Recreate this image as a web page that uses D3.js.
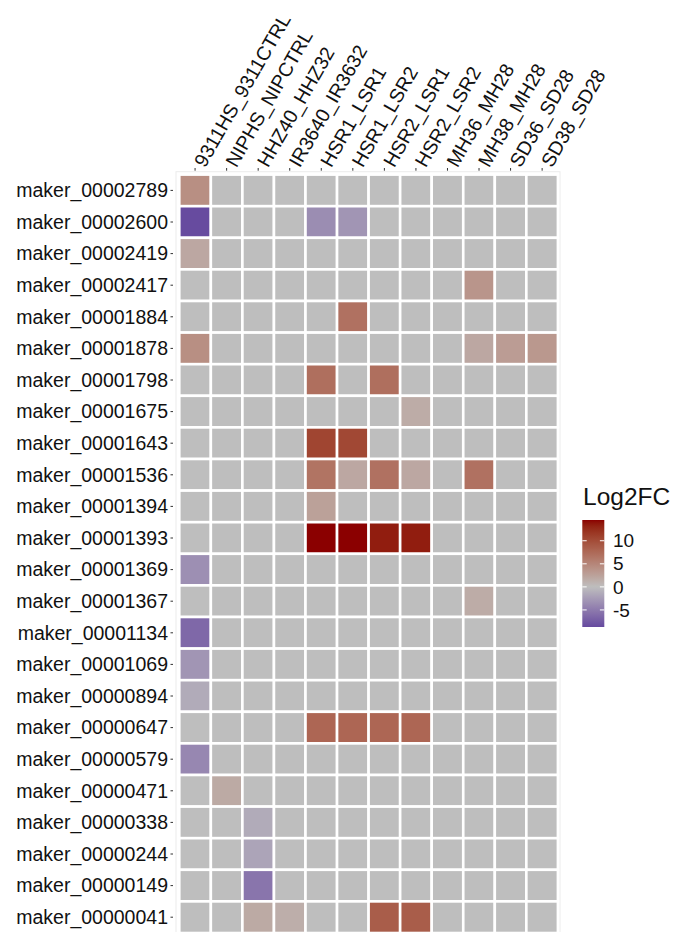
<!DOCTYPE html>
<html>
<head>
<meta charset="utf-8">
<script src="https://cdn.jsdelivr.net/npm/d3@7"></script>
<style>
  html, body { margin: 0; padding: 0; background: #fff; }
  svg { display: block; font-family: "Liberation Sans", Arial, sans-serif; }
</style>
</head>
<body>
<svg id="chart" width="678" height="932"></svg>
<script>
const columns = ["9311HS_9311CTRL","NIPHS_NIPCTRL","HHZ40_HHZ32","IR3640_IR3632","HSR1_LSR1","HSR1_LSR2","HSR2_LSR1","HSR2_LSR2","MH36_MH28","MH38_MH28","SD36_SD28","SD38_SD28"];
const genes = ["maker_00002789","maker_00002600","maker_00002419","maker_00002417","maker_00001884","maker_00001878","maker_00001798","maker_00001675","maker_00001643","maker_00001536","maker_00001394","maker_00001393","maker_00001369","maker_00001367","maker_00001134","maker_00001069","maker_00000894","maker_00000647","maker_00000579","maker_00000471","maker_00000338","maker_00000244","maker_00000149","maker_00000041"];
const N = null;
// Log2FC values per gene (row), one per column; null = not significant (grey)
const log2fc = [
  [ 4.2, N, N, N, N, N, N, N, N, N, N, N],
  [-8.6, N, N, N,-3.6,-3.0, N, N, N, N, N, N],
  [ 2.0, N, N, N, N, N, N, N, N, N, N, N],
  [ N, N, N, N, N, N, N, N, N, 3.6, N, N],
  [ N, N, N, N, N, 6.8, N, N, N, N, N, N],
  [ 4.2, N, N, N, N, N, N, N, N, 2.0, 3.0, 3.4],
  [ N, N, N, N, 7.0, N, 7.0, N, N, N, N, N],
  [ N, N, N, N, N, N, N, 1.6, N, N, N, N],
  [ N, N, N, N,10.6,10.4, N, N, N, N, N, N],
  [ N, N, N, N, 6.6, 2.0, 6.8, 2.0, N, 6.8, N, N],
  [ N, N, N, N, 2.6, N, N, N, N, N, N, N],
  [ N, N, N, N,14.5,14.5,13.4,13.4, N, N, N, N],
  [-3.4, N, N, N, N, N, N, N, N, N, N, N],
  [ N, N, N, N, N, N, N, N, N, 1.6, N, N],
  [-6.4, N, N, N, N, N, N, N, N, N, N, N],
  [-3.0, N, N, N, N, N, N, N, N, N, N, N],
  [-1.4, N, N, N, N, N, N, N, N, N, N, N],
  [ N, N, N, N, 7.8, 7.8, 7.8, 7.8, N, N, N, N],
  [-4.0, N, N, N, N, N, N, N, N, N, N, N],
  [ N, 1.8, N, N, N, N, N, N, N, N, N, N],
  [ N, N,-1.4, N, N, N, N, N, N, N, N, N],
  [ N, N,-1.9, N, N, N, N, N, N, N, N, N],
  [ N, N,-5.4, N, N, N, N, N, N, N, N, N],
  [ N, N, 1.8, 1.4, N, N, 8.6, 8.6, N, N, N, N]
];
const legendTicks = [10, 5, 0, -5];
const legendTitle = "Log2FC";

const svg = d3.select("#chart");
const x = d3.scaleBand().domain(columns).range([179.3, 557.9]).padding(0);
const y = d3.scaleBand().domain(genes).range([174.6, 174.6 + 24 * 31.6]).padding(0);
const vmin = -8.7, vmax = 14.5;
const color = d3.scaleLinear().domain([vmin, 0, vmax])
  .range(["#664a9f", "#bebebe", "#8b0000"]).interpolate(d3.interpolateLab);

const cells = [];
genes.forEach((g, i) => columns.forEach((c, j) => cells.push({ g, c, v: log2fc[i][j] })));

// panel outline
svg.append("rect")
  .attr("x", 176).attr("y", 171.7).attr("width", 384).attr("height", 800)
  .attr("fill", "#fff").attr("stroke", "#ebebeb").attr("stroke-width", 1);

svg.append("g").selectAll("rect").data(cells).join("rect")
  .attr("x", d => x(d.c)).attr("y", d => y(d.g))
  .attr("width", x.bandwidth()).attr("height", y.bandwidth())
  .attr("fill", d => d.v === null ? "#bebebe" : color(d.v))
  .attr("stroke", "#fff").attr("stroke-width", 2.6);

// y axis
const ya = svg.append("g");
genes.forEach(g => {
  const cy = y(g) + y.bandwidth() / 2;
  ya.append("line").attr("x1", 170.5).attr("x2", 173).attr("y1", cy).attr("y2", cy)
    .attr("stroke", "#333").attr("stroke-width", 1);
  ya.append("text").attr("x", 168).attr("y", cy).attr("dy", "0.35em")
    .attr("text-anchor", "end").attr("font-size", 19.5).attr("fill", "#111").text(g);
});

// x axis (top)
const xa = svg.append("g");
columns.forEach(c => {
  const cx = x(c) + x.bandwidth() / 2;
  xa.append("line").attr("x1", cx).attr("x2", cx).attr("y1", 168).attr("y2", 170.7)
    .attr("stroke", "#333").attr("stroke-width", 1);
  xa.append("text")
    .attr("transform", `translate(${cx + 4},${165}) rotate(-60)`)
    .attr("dy", "0.35em")
    .attr("text-anchor", "start").attr("font-size", 19.5).attr("fill", "#111").text(c);
});

// legend
const lx = 582.3, lw = 22, ly0 = 520, ly1 = 627;
const ls = d3.scaleLinear().domain([vmin, vmax]).range([ly1, ly0]);
const defs = svg.append("defs");
const grad = defs.append("linearGradient").attr("id", "lg")
  .attr("x1", 0).attr("y1", 1).attr("x2", 0).attr("y2", 0);
d3.range(0, 1.0001, 0.02).forEach(t => {
  grad.append("stop").attr("offset", t).attr("stop-color", color(vmin + t * (vmax - vmin)));
});
svg.append("text").attr("x", 583).attr("y", 505).attr("font-size", 24.5).attr("fill", "#111").text(legendTitle);
svg.append("rect").attr("x", lx).attr("y", ly0).attr("width", lw).attr("height", ly1 - ly0).attr("fill", "url(#lg)");
legendTicks.forEach(t => {
  const ty = ls(t);
  svg.append("line").attr("x1", lx).attr("x2", lx + 4.4).attr("y1", ty).attr("y2", ty).attr("stroke", "#fff").attr("stroke-width", 1);
  svg.append("line").attr("x1", lx + lw - 4.4).attr("x2", lx + lw).attr("y1", ty).attr("y2", ty).attr("stroke", "#fff").attr("stroke-width", 1);
  svg.append("text").attr("x", 613).attr("y", ty).attr("dy", "0.35em").attr("font-size", 19).attr("fill", "#111").text(t);
});
</script>
</body>
</html>
